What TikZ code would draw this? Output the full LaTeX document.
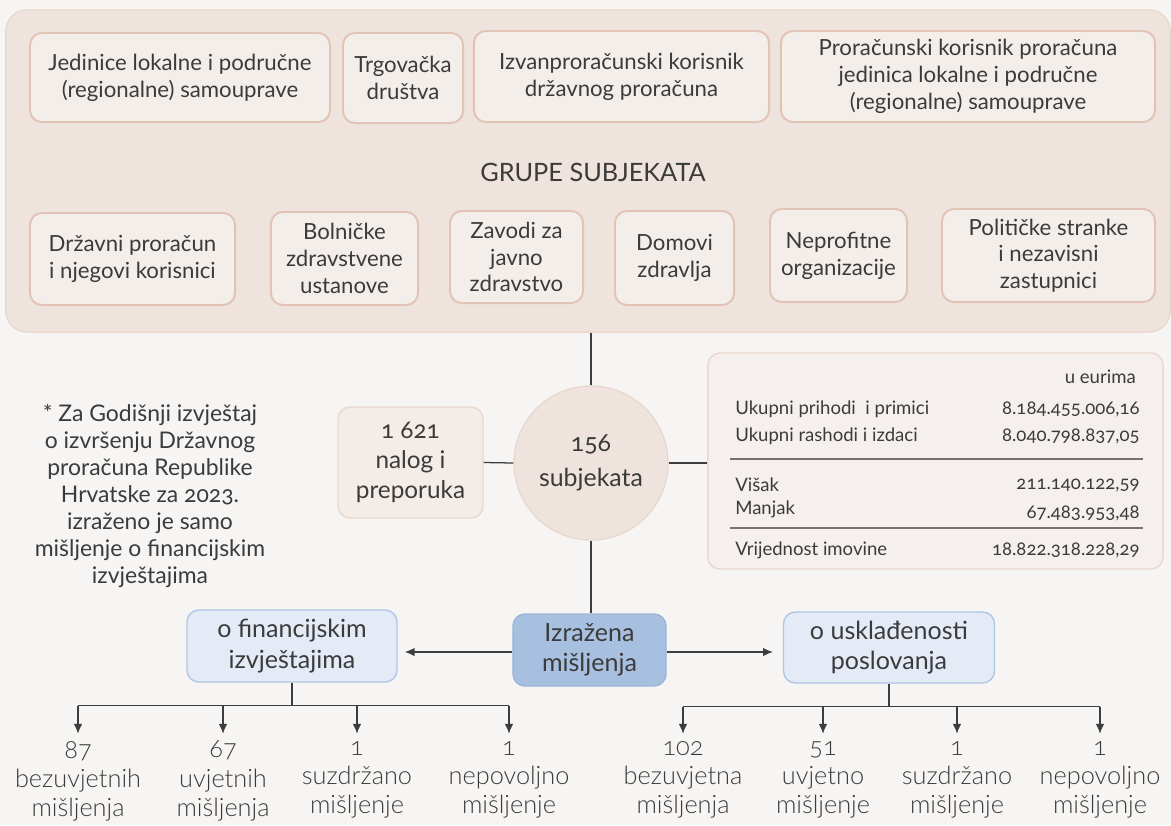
\documentclass[tikz,border=0pt]{standalone}
\usepackage{fontspec}
\setmainfont{Lato}[Numbers=OldStyle]
\newfontfamily\lightfont{Lato Light}[Numbers=OldStyle]
\usetikzlibrary{arrows.meta}

\definecolor{pozadina}{HTML}{F7F5F3}
\definecolor{okvirfill}{HTML}{EFE4DD}
\definecolor{okvirrub}{HTML}{E9D8CF}
\definecolor{grupafill}{HTML}{F4EEEA}
\definecolor{gruparub}{HTML}{E2C4B6}
\definecolor{tekst}{HTML}{3B3B3B}
\definecolor{linija}{HTML}{3D3D3D}
\definecolor{crta}{HTML}{77716E}
\definecolor{plavo}{HTML}{A8C0E0}
\definecolor{plavorub}{HTML}{9AB4D8}
\definecolor{svplavo}{HTML}{E4EBF6}
\definecolor{svplavorub}{HTML}{AFC6E4}

\tikzset{
  grupa/.style={draw=gruparub, fill=grupafill, line width=1.4pt, rounded corners=8.5pt,
    align=center, text=tekst, inner sep=2pt, font=\fontsize{15.8}{19}\selectfont},
  krug/.style={circle, draw=okvirrub, fill=okvirfill, line width=1pt, align=center,
    text=tekst, font=\fontsize{17.7}{24.5}\selectfont},
  misljenje/.style={draw=svplavorub, fill=svplavo, line width=1pt, rounded corners=8.5pt,
    align=center, text=tekst, font=\fontsize{17.8}{21.5}\selectfont},
  ishod/.style={anchor=north, align=center, text=tekst, inner sep=2pt,
    font=\lightfont\fontsize{18}{20.8}\selectfont},
  stavka/.style={text=tekst, inner sep=0pt, font=\fontsize{13.2}{15}\selectfont},
  veza/.style={draw=linija, line width=0.9pt},
  strelica/.style={veza, -{Latex[length=7pt,width=6pt]}}
}

\begin{document}
\begin{tikzpicture}[x=0.025cm, y=-0.025cm]
  \fill[pozadina] (0,0) rectangle (1171,825);
  \useasboundingbox (0,0) rectangle (1171,825);

  % grupe subjekata
  \node[draw=okvirrub, fill=okvirfill, line width=1pt, rounded corners=15pt,
    minimum width=29.1cm, minimum height=8.05cm] (grupe) at (588,171) {};
  \node[text=tekst, font=\fontsize{18}{20}\selectfont] (naslov) at (593,172) {GRUPE SUBJEKATA};

  \node[grupa, minimum width=7.5cm, minimum height=2.225cm] (jls) at (180,77.5)
    {Jedinice lokalne i područne\\(regionalne) samouprave};
  \node[grupa, minimum width=3cm, minimum height=2.25cm] (trg) at (403,78)
    {Trgovačka\\društva};
  \node[grupa, minimum width=7.375cm, minimum height=2.275cm] (ipk) at (621.5,76.5)
    {Izvanproračunski korisnik\\državnog proračuna};
  \node[grupa, minimum width=9.35cm, minimum height=2.275cm] (pkp) at (968,76.5)
    {Proračunski korisnik proračuna\\jedinica lokalne i područne\\(regionalne) samouprave};

  \node[grupa, minimum width=5.125cm, minimum height=2.3cm] (dpr) at (132.5,259)
    {Državni proračun\\i njegovi korisnici};
  \node[grupa, minimum width=3.675cm, minimum height=2.325cm] (bzu) at (344.5,258.5)
    {Bolničke\\zdravstvene\\ustanove};
  \node[grupa, minimum width=3.325cm, minimum height=2.3cm] (zjz) at (516.5,257)
    {Zavodi za\\javno\\zdravstvo};
  \node[grupa, minimum width=2.975cm, minimum height=2.35cm] (dzd) at (674.5,258)
    {Domovi\\zdravlja};
  \node[grupa, minimum width=3.425cm, minimum height=2.325cm] (npo) at (838.5,255.5)
    {Neprofitne\\organizacije};
  \node[grupa, minimum width=5.325cm, minimum height=2.325cm] (pst) at (1048.5,255.5)
    {Političke stranke\\i nezavisni\\zastupnici};

  % sredina
  \node[krug, minimum size=3.85cm, inner sep=0pt] (sub) at (591,463) {156\\subjekata};
  \node[grupa, draw=okvirrub, fill=grupafill!80!okvirfill, line width=1pt,
    minimum width=3.625cm, minimum height=2.775cm, font=\fontsize{17.3}{21.5}\selectfont]
    (nalozi) at (410.5,462.5) {1 621\\nalog i\\preporuka};
  \node[draw=okvirrub, fill=grupafill!70!pozadina, line width=1pt, rounded corners=8.5pt,
    minimum width=11.375cm, minimum height=5.4cm] (tablica) at (935.5,461) {};

  \draw[veza] (sub |- grupe.south) -- (sub.north);
  \draw[veza] (nalozi.east) -- (sub.west);
  \draw[veza] (sub.east) -- (tablica.west |- sub.east);

  % tablica
  \node[stavka, anchor=east] (eur) at (1136,377) {u eurima};
  \node[stavka, anchor=west] (prih) at (735,409) {Ukupni prihodi \ i primici};
  \node[stavka, anchor=east] (prihv) at (1140,409) {8.184.455.006,16};
  \node[stavka, anchor=west] (rash) at (735,436) {Ukupni rashodi i izdaci};
  \node[stavka, anchor=east] (rashv) at (1140,436) {8.040.798.837,05};
  \draw[crta, line width=1pt] (730,459) -- (1143,459);
  \node[stavka, anchor=west] (visak) at (735,485) {Višak};
  \node[stavka, anchor=east] (visakv) at (1140,486) {211.140.122,59};
  \node[stavka, anchor=west] (manjak) at (735,509) {Manjak};
  \node[stavka, anchor=east] (manjakv) at (1140,513) {67.483.953,48};
  \draw[crta, line width=1pt] (730,528) -- (1143,528);
  \node[stavka, anchor=west] (imov) at (735,550) {Vrijednost imovine};
  \node[stavka, anchor=east] (imovv) at (1140,550) {18.822.318.228,29};

  % napomena
  \node[align=center, text=tekst, font=\fontsize{16.3}{19.2}\selectfont] (napomena) at (150,496)
    {* Za Godišnji izvještaj\\o izvršenju Državnog\\proračuna Republike\\Hrvatske za 2023.\\izraženo je samo\\mišljenje o financijskim\\izvještajima};

  % misljenja
  \node[misljenje, fill=plavo, draw=plavorub, minimum width=3.825cm, minimum height=1.8cm]
    (izr) at (589.5,650) {Izražena\\mišljenja};
  \node[misljenje, minimum width=5.25cm, minimum height=1.8cm] (fin) at (292,646)
    {o financijskim\\izvještajima};
  \node[misljenje, minimum width=5.275cm, minimum height=1.775cm] (usk) at (889,647.5)
    {o usklađenosti\\poslovanja};

  \draw[veza] (sub.south) -- (sub |- izr.north);
  \draw[strelica, shorten >=5pt] (izr.west |- 0,652) -- (fin.east |- 0,652);
  \draw[strelica, shorten >=7pt] (izr.east |- 0,652) -- (usk.west |- 0,652);

  % ishodi - financijski izvjestaji
  \node[ishod] (f1) at (78,738) {87\\bezuvjetnih\\mišljenja};
  \node[ishod] (f2) at (223,738) {67\\uvjetnih\\mišljenja};
  \node[ishod] (f3) at (357,738) {1\\suzdržano\\mišljenje};
  \node[ishod] (f4) at (509,738) {1\\nepovoljno\\mišljenje};
  \draw[veza] (fin.south) -- ++(0,23) coordinate (finr);
  \draw[veza] (f1 |- finr) -- (f4 |- finr);
  \foreach \c in {f1,f2,f3,f4}
    \draw[strelica, shorten >=3pt] (\c |- finr) -- (\c.north);

  % ishodi - uskladenost
  \node[ishod] (u1) at (683,738) {102\\bezuvjetna\\mišljenja};
  \node[ishod] (u2) at (823,738) {51\\uvjetno\\mišljenje};
  \node[ishod] (u3) at (957,738) {1\\suzdržano\\mišljenje};
  \node[ishod] (u4) at (1100,738) {1\\nepovoljno\\mišljenje};
  \draw[veza] (usk.south) -- ++(0,23) coordinate (uskr);
  \draw[veza] (u1 |- uskr) -- (u4 |- uskr);
  \foreach \c in {u1,u2,u3,u4}
    \draw[strelica, shorten >=3pt] (\c |- uskr) -- (\c.north);
\end{tikzpicture}
\end{document}
